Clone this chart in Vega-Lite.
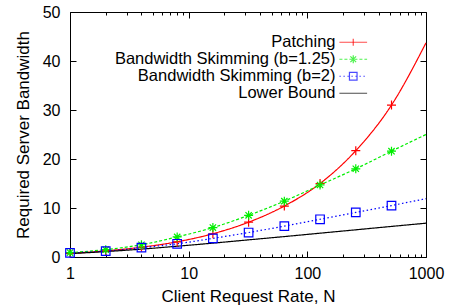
{
  "$schema": "https://vega.github.io/schema/vega-lite/v6.json",
  "width": 356,
  "height": 245,
  "autosize": "none",
  "padding": {"left": 70, "top": 12, "right": 28, "bottom": 51},
  "background": "white",
  "config": {
    "view": {"stroke": null},
    "font": "Liberation Sans",
    "axis": {
      "labelFont": "Liberation Sans",
      "labelFontSize": 16,
      "labelColor": "black",
      "titleFont": "Liberation Sans",
      "titleFontSize": 17,
      "titleFontWeight": "normal",
      "titleColor": "black",
      "domainColor": "black",
      "domainWidth": 1,
      "tickColor": "black",
      "tickWidth": 1,
      "grid": false
    },
    "legend": {
      "labelFont": "Liberation Sans",
      "labelFontSize": 16.5,
      "labelColor": "black"
    }
  },
  "data": {
    "values": [
      {"series": "Patching", "N": 1, "value": 0.75},
      {"series": "Patching", "N": 2, "value": 1.25},
      {"series": "Patching", "N": 4, "value": 2.0},
      {"series": "Patching", "N": 8, "value": 3.1},
      {"series": "Patching", "N": 16, "value": 4.75},
      {"series": "Patching", "N": 32, "value": 7.1},
      {"series": "Patching", "N": 64, "value": 10.4},
      {"series": "Patching", "N": 128, "value": 15.0},
      {"series": "Patching", "N": 256, "value": 21.7},
      {"series": "Patching", "N": 512, "value": 31.0},
      {"series": "Patching", "N": 1000, "value": 43.7},
      {"series": "Bandwidth Skimming (b=1.25)", "N": 1, "value": 0.9},
      {"series": "Bandwidth Skimming (b=1.25)", "N": 2, "value": 1.5},
      {"series": "Bandwidth Skimming (b=1.25)", "N": 4, "value": 2.5},
      {"series": "Bandwidth Skimming (b=1.25)", "N": 8, "value": 4.1},
      {"series": "Bandwidth Skimming (b=1.25)", "N": 16, "value": 6.0},
      {"series": "Bandwidth Skimming (b=1.25)", "N": 32, "value": 8.5},
      {"series": "Bandwidth Skimming (b=1.25)", "N": 64, "value": 11.4},
      {"series": "Bandwidth Skimming (b=1.25)", "N": 128, "value": 14.7},
      {"series": "Bandwidth Skimming (b=1.25)", "N": 256, "value": 18.0},
      {"series": "Bandwidth Skimming (b=1.25)", "N": 512, "value": 21.6},
      {"series": "Bandwidth Skimming (b=1.25)", "N": 1000, "value": 25.0},
      {"series": "Bandwidth Skimming (b=2)", "N": 1, "value": 0.85},
      {"series": "Bandwidth Skimming (b=2)", "N": 2, "value": 1.2},
      {"series": "Bandwidth Skimming (b=2)", "N": 4, "value": 1.9},
      {"series": "Bandwidth Skimming (b=2)", "N": 8, "value": 2.7},
      {"series": "Bandwidth Skimming (b=2)", "N": 16, "value": 3.8},
      {"series": "Bandwidth Skimming (b=2)", "N": 32, "value": 5.0},
      {"series": "Bandwidth Skimming (b=2)", "N": 64, "value": 6.3},
      {"series": "Bandwidth Skimming (b=2)", "N": 128, "value": 7.7},
      {"series": "Bandwidth Skimming (b=2)", "N": 256, "value": 9.1},
      {"series": "Bandwidth Skimming (b=2)", "N": 512, "value": 10.5},
      {"series": "Bandwidth Skimming (b=2)", "N": 1000, "value": 11.9},
      {"series": "Lower Bound", "N": 1, "value": 0.69},
      {"series": "Lower Bound", "N": 2, "value": 1.1},
      {"series": "Lower Bound", "N": 4, "value": 1.61},
      {"series": "Lower Bound", "N": 8, "value": 2.2},
      {"series": "Lower Bound", "N": 16, "value": 2.83},
      {"series": "Lower Bound", "N": 32, "value": 3.5},
      {"series": "Lower Bound", "N": 64, "value": 4.17},
      {"series": "Lower Bound", "N": 128, "value": 4.86},
      {"series": "Lower Bound", "N": 256, "value": 5.55},
      {"series": "Lower Bound", "N": 512, "value": 6.24},
      {"series": "Lower Bound", "N": 1000, "value": 6.9}
    ]
  },
  "resolve": {
    "scale": {"color": "independent", "shape": "independent", "strokeDash": "independent"},
    "axis": {"x": "independent", "y": "independent"}
  },
  "layer": [
    {
      "mark": {"type": "line", "interpolate": "monotone", "strokeWidth": 1.2},
      "encoding": {
        "x": {
          "field": "N", "type": "quantitative",
          "scale": {"type": "log", "domain": [1, 1000]},
          "axis": {
            "orient": "bottom",
            "title": "Client Request Rate, N",
            "titleX": 178, "titleY": 44.5, "titleBaseline": "alphabetic", "titleAlign": "center",
            "values": [1,2,3,4,5,6,7,8,9,10,20,30,40,50,60,70,80,90,100,200,300,400,500,600,700,800,900,1000],
            "labelExpr": "(datum.value == 1 || datum.value == 10 || datum.value == 100 || datum.value == 1000) ? format(datum.value, 'd') : ''",
            "labelFlush": false,
            "labelOverlap": false,
            "labelPadding": 14,
            "tickSize": {"condition": {"test": "datum.value == 1 || datum.value == 10 || datum.value == 100 || datum.value == 1000", "value": -6}, "value": -3}
          }
        },
        "y": {
          "field": "value", "type": "quantitative",
          "scale": {"domain": [0, 50]},
          "axis": {
            "orient": "left",
            "title": "Required Server Bandwidth",
            "titleX": -42, "titleY": 122.5, "titleBaseline": "alphabetic", "titleAlign": "center", "titleAngle": 270,
            "values": [0, 10, 20, 30, 40, 50],
            "format": "d",
            "labelPadding": 16,
            "tickSize": -6
          }
        },
        "color": {
          "field": "series", "type": "nominal",
          "scale": {"domain": ["Patching", "Bandwidth Skimming (b=1.25)", "Bandwidth Skimming (b=2)", "Lower Bound"], "range": ["#ff0000", "#00ee00", "#0000ff", "#000000"]},
          "legend": null
        },
        "strokeDash": {
          "field": "series", "type": "nominal",
          "scale": {"domain": ["Patching", "Bandwidth Skimming (b=1.25)", "Bandwidth Skimming (b=2)", "Lower Bound"], "range": [[1, 0], [3, 2], [1.5, 2.5], [1, 0]]},
          "legend": null
        }
      }
    },
    {
      "transform": [{"filter": "datum.N < 1000 && datum.series != 'Lower Bound'"}],
      "mark": {"type": "point", "filled": false, "strokeWidth": 1.2, "size": 81, "opacity": 1},
      "encoding": {
        "x": {
          "field": "N", "type": "quantitative",
          "scale": {"type": "log", "domain": [1, 1000]},
          "axis": {
            "orient": "top", "title": null, "labels": false,
            "values": [1,2,3,4,5,6,7,8,9,10,20,30,40,50,60,70,80,90,100,200,300,400,500,600,700,800,900,1000],
            "tickSize": {"condition": {"test": "datum.value == 1 || datum.value == 10 || datum.value == 100 || datum.value == 1000", "value": -6}, "value": -3}
          }
        },
        "y": {
          "field": "value", "type": "quantitative",
          "scale": {"domain": [0, 50]},
          "axis": {"orient": "right", "title": null, "labels": false, "values": [0, 10, 20, 30, 40, 50], "tickSize": -6}
        },
        "color": {
          "field": "series", "type": "nominal",
          "scale": {"domain": ["Patching", "Bandwidth Skimming (b=1.25)", "Bandwidth Skimming (b=2)"], "range": ["#ff0000", "#00ee00", "#0000ff"]},
          "legend": null
        },
        "shape": {
          "field": "series", "type": "nominal",
          "scale": {"domain": ["Patching", "Bandwidth Skimming (b=1.25)", "Bandwidth Skimming (b=2)"], "range": ["M-1,0H1M0,-1V1", "M-1,0H1M0,-1V1M-0.7,-0.7L0.7,0.7M-0.7,0.7L0.7,-0.7", "M-0.95,-0.95H0.95V0.95H-0.95Z"]},
          "legend": null
        }
      }
    },
    {
      "transform": [{"filter": "datum.N < 0"}],
      "mark": {"type": "point", "filled": false, "strokeWidth": 1.2},
      "encoding": {
        "x": {"field": "N", "type": "quantitative", "scale": {"type": "log", "domain": [1, 1000]}, "axis": null},
        "y": {"field": "value", "type": "quantitative", "scale": {"domain": [0, 50]}, "axis": null},
        "color": {
          "field": "series", "type": "nominal",
          "scale": {"domain": ["Patching", "Bandwidth Skimming (b=1.25)", "Bandwidth Skimming (b=2)", "Lower Bound"], "range": ["#ff0000", "#00ee00", "#0000ff", "#000000"]},
          "legend": {
            "orient": "none", "legendX": 275, "legendY": 22, "title": null,
            "labelAlign": "right", "labelOffset": -26, "labelLimit": 0,
            "symbolSize": 100, "symbolStrokeWidth": 1.2, "rowPadding": 0, "padding": 0
          }
        },
        "shape": {
          "field": "series", "type": "nominal",
          "scale": {"domain": ["Patching", "Bandwidth Skimming (b=1.25)", "Bandwidth Skimming (b=2)", "Lower Bound"], "range": ["M-2.77,0H2.77", "M-2.77,0H2.77", "M-2.77,0H2.77", "M-2.77,0H2.77"]},
          "legend": {
            "orient": "none", "legendX": 275, "legendY": 22, "title": null,
            "labelAlign": "right", "labelOffset": -26, "labelLimit": 0,
            "symbolSize": 100, "symbolStrokeWidth": 1.2, "rowPadding": 0, "padding": 0
          }
        },
        "strokeDash": {
          "field": "series", "type": "nominal",
          "scale": {"domain": ["Patching", "Bandwidth Skimming (b=1.25)", "Bandwidth Skimming (b=2)", "Lower Bound"], "range": [[1, 0], [3, 2], [1.5, 2.5], [1, 0]]},
          "legend": {
            "orient": "none", "legendX": 275, "legendY": 22, "title": null,
            "labelAlign": "right", "labelOffset": -26, "labelLimit": 0,
            "symbolSize": 100, "symbolStrokeWidth": 1.2, "rowPadding": 0, "padding": 0
          }
        }
      }
    },
    {
      "transform": [{"filter": "datum.N < 0"}],
      "mark": {"type": "point", "filled": false, "strokeWidth": 1.2},
      "encoding": {
        "x": {"field": "N", "type": "quantitative", "scale": {"type": "log", "domain": [1, 1000]}, "axis": null},
        "y": {"field": "value", "type": "quantitative", "scale": {"domain": [0, 50]}, "axis": null},
        "color": {
          "field": "series", "type": "nominal",
          "scale": {"domain": ["Patching", "Bandwidth Skimming (b=1.25)", "Bandwidth Skimming (b=2)", "Lower Bound"], "range": ["#ff0000", "#00ee00", "#0000ff", "#000000"]},
          "legend": {
            "orient": "none", "legendX": 275, "legendY": 22, "title": null,
            "labelAlign": "right", "labelOffset": -26, "labelLimit": 0, "labelExpr": "''",
            "symbolSize": 100, "symbolStrokeWidth": 1.2, "rowPadding": 0, "padding": 0
          }
        },
        "shape": {
          "field": "series", "type": "nominal",
          "scale": {"domain": ["Patching", "Bandwidth Skimming (b=1.25)", "Bandwidth Skimming (b=2)", "Lower Bound"], "range": ["M0,-0.7V0.7", "M0,-0.8V0.8M-0.57,-0.57L0.57,0.57M-0.57,0.57L0.57,-0.57", "M-0.76,-0.76H0.76V0.76H-0.76Z", "M0,0"]},
          "legend": {
            "orient": "none", "legendX": 275, "legendY": 22, "title": null,
            "labelAlign": "right", "labelOffset": -26, "labelLimit": 0, "labelExpr": "''",
            "symbolSize": 100, "symbolStrokeWidth": 1.2, "rowPadding": 0, "padding": 0
          }
        }
      }
    }
  ]
}
